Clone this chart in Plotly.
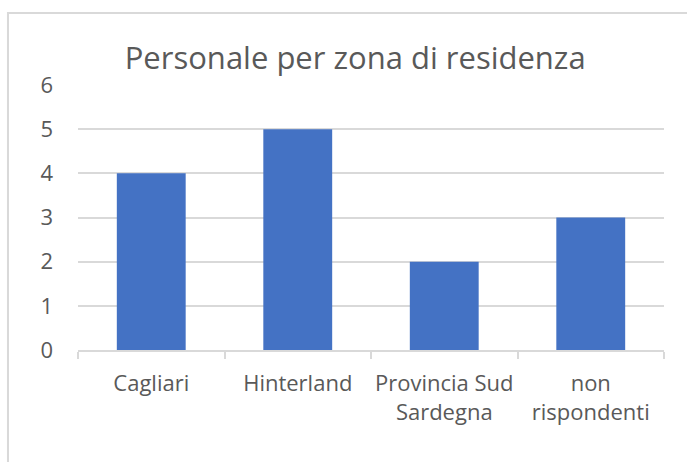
import plotly.graph_objects as go

# Dati
categorie = ["Cagliari", "Hinterland", "Provincia Sud<br>Sardegna", "non<br>rispondenti"]
valori = [4, 5, 2, 3]
y_ticks = [0, 1, 2, 3, 4, 5, 6]

BLU = "#4472C4"
GRIGIO_TESTO = "#595959"
GRIGIO_LINEE = "#D9D9D9"
FONT = "Open Sans"

fig = go.Figure()
fig.add_trace(
    go.Bar(x=categorie, y=valori, marker=dict(color=BLU, line=dict(width=0)))
)

fig.update_layout(
    width=687,
    height=462,
    margin=dict(l=78, r=23, t=85, b=112),
    paper_bgcolor="white",
    plot_bgcolor="white",
    showlegend=False,
    bargap=0.53,
    font=dict(family=FONT, color=GRIGIO_TESTO, size=22),
    title=dict(
        text="Personale per zona di residenza",
        x=0.517,
        xanchor="center",
        y=0.875,
        yanchor="middle",
        font=dict(family=FONT, size=31, color=GRIGIO_TESTO),
    ),
    xaxis=dict(
        showline=True,
        linecolor=GRIGIO_LINEE,
        linewidth=1.5,
        ticks="outside",
        tickson="boundaries",
        ticklen=7,
        tickcolor=GRIGIO_LINEE,
        tickwidth=1.5,
        showgrid=False,
        tickangle=0,
        automargin=False,
        ticklabelstandoff=13,
    ),
    yaxis=dict(
        range=[0, 6],
        tickvals=y_ticks,
        showgrid=True,
        gridcolor=GRIGIO_LINEE,
        gridwidth=1.5,
        zeroline=False,
        showline=False,
        automargin=False,
        ticklabelstandoff=24,
    ),
    # cornice del grafico (tagliata a destra e in basso come nell'originale)
    shapes=[
        dict(
            type="rect",
            xref="paper",
            yref="paper",
            x0=-0.1195,
            x1=1.2,
            y0=-0.6,
            y1=1.2717,
            line=dict(color=GRIGIO_LINEE, width=2),
            fillcolor="rgba(0,0,0,0)",
            layer="below",
        )
    ],
)

# niente margine del body, così il grafico parte dall'angolo della finestra
fig.write_html(
    "out.html",
    config={"displayModeBar": False},
    post_script="document.body.style.margin='0';",
)
